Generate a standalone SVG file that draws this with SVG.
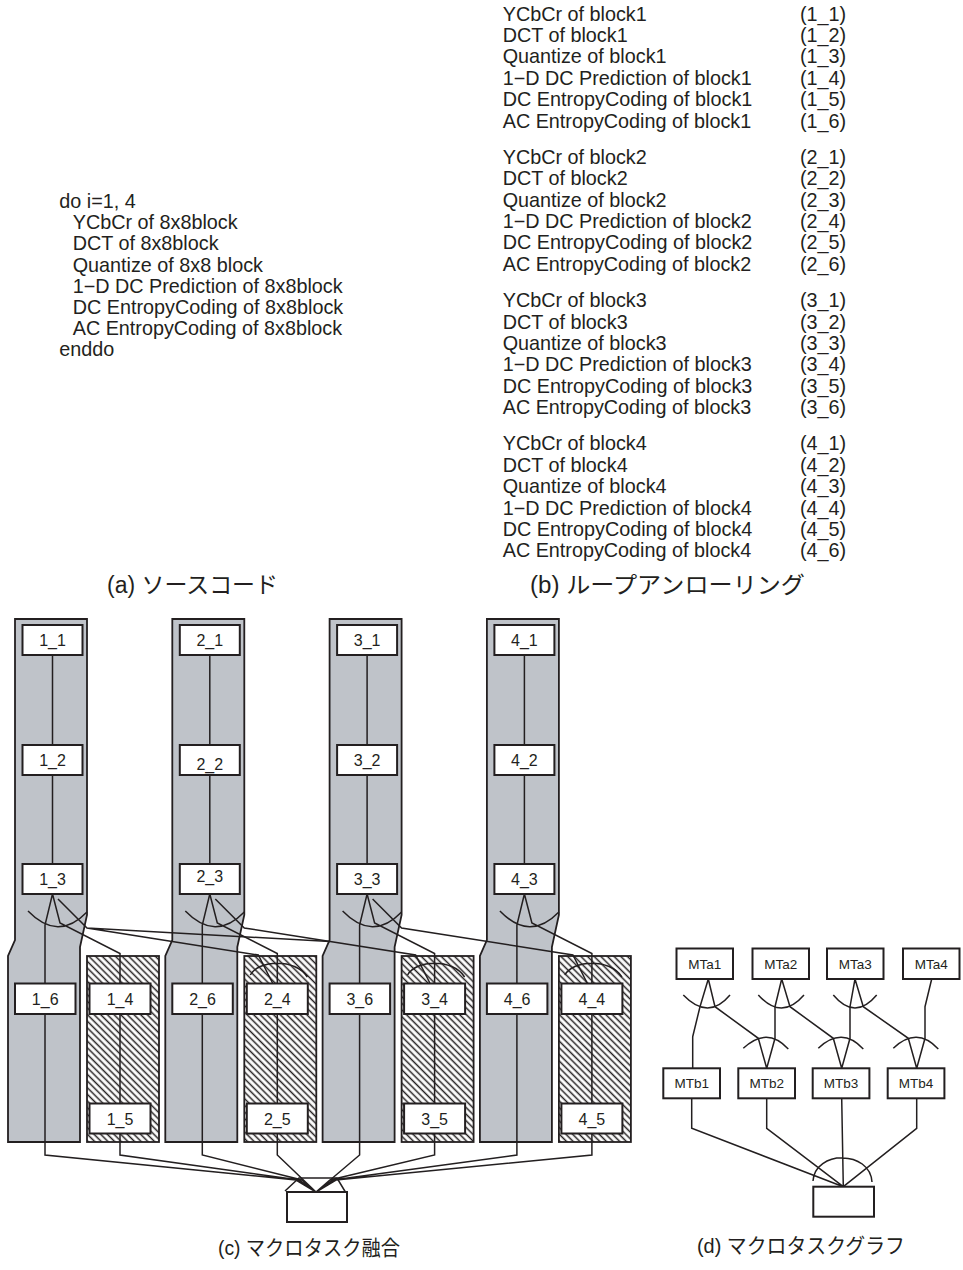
<svg xmlns="http://www.w3.org/2000/svg" width="963" height="1270" viewBox="0 0 963 1270">
<style>
.t{font-family:"Liberation Sans",Arial,sans-serif;fill:#231f20}
.big{font-size:19.8px}
.lbl{font-size:16px;text-anchor:middle}
.mt{font-size:13.5px;text-anchor:middle}
.cap{font-family:"Liberation Sans","Noto Sans CJK JP",sans-serif;fill:#231f20}
.box{fill:#fff;stroke:#231f20;stroke-width:2}
.col{fill:#bfc3c9;stroke:#231f20;stroke-width:1.8}
.hat{fill:url(#hatch);stroke:#231f20;stroke-width:1.8}
.ln{fill:none;stroke:#231f20;stroke-width:1.5}
</style>
<defs>
<pattern id="hatch" patternUnits="userSpaceOnUse" width="4.7" height="4.7" patternTransform="rotate(-45)">
<rect width="4.7" height="4.7" fill="#fff"/>
<line x1="2.35" y1="0" x2="2.35" y2="4.7" stroke="#231f20" stroke-width="1.5"/>
</pattern>
</defs>
<rect width="963" height="1270" fill="#fff"/>

<g id="source" class="t big">
<text x="59.3" y="208.3">do i=1, 4</text>
<text x="72.7" y="229.4">YCbCr of 8x8block</text>
<text x="72.7" y="250.4">DCT of 8x8block</text>
<text x="72.7" y="271.5">Quantize of 8x8 block</text>
<text x="72.7" y="292.5">1−D DC Prediction of 8x8block</text>
<text x="72.7" y="313.6">DC EntropyCoding of 8x8block</text>
<text x="72.7" y="334.6">AC EntropyCoding of 8x8block</text>
<text x="59.3" y="355.7">enddo</text>
</g>

<g id="unrolled" class="t big">
<text x="502.7" y="20.5">YCbCr of block1</text><text x="800" y="20.5">(1_1)</text>
<text x="502.7" y="41.9">DCT of block1</text><text x="800" y="41.9">(1_2)</text>
<text x="502.7" y="63.3">Quantize of block1</text><text x="800" y="63.3">(1_3)</text>
<text x="502.7" y="84.7">1−D DC Prediction of block1</text><text x="800" y="84.7">(1_4)</text>
<text x="502.7" y="106.1">DC EntropyCoding of block1</text><text x="800" y="106.1">(1_5)</text>
<text x="502.7" y="127.5">AC EntropyCoding of block1</text><text x="800" y="127.5">(1_6)</text>
<text x="502.7" y="163.8">YCbCr of block2</text><text x="800" y="163.8">(2_1)</text>
<text x="502.7" y="185.2">DCT of block2</text><text x="800" y="185.2">(2_2)</text>
<text x="502.7" y="206.6">Quantize of block2</text><text x="800" y="206.6">(2_3)</text>
<text x="502.7" y="228">1−D DC Prediction of block2</text><text x="800" y="228">(2_4)</text>
<text x="502.7" y="249.4">DC EntropyCoding of block2</text><text x="800" y="249.4">(2_5)</text>
<text x="502.7" y="270.8">AC EntropyCoding of block2</text><text x="800" y="270.8">(2_6)</text>
<text x="502.7" y="307.1">YCbCr of block3</text><text x="800" y="307.1">(3_1)</text>
<text x="502.7" y="328.5">DCT of block3</text><text x="800" y="328.5">(3_2)</text>
<text x="502.7" y="349.9">Quantize of block3</text><text x="800" y="349.9">(3_3)</text>
<text x="502.7" y="371.3">1−D DC Prediction of block3</text><text x="800" y="371.3">(3_4)</text>
<text x="502.7" y="392.7">DC EntropyCoding of block3</text><text x="800" y="392.7">(3_5)</text>
<text x="502.7" y="414.1">AC EntropyCoding of block3</text><text x="800" y="414.1">(3_6)</text>
<text x="502.7" y="450.4">YCbCr of block4</text><text x="800" y="450.4">(4_1)</text>
<text x="502.7" y="471.8">DCT of block4</text><text x="800" y="471.8">(4_2)</text>
<text x="502.7" y="493.2">Quantize of block4</text><text x="800" y="493.2">(4_3)</text>
<text x="502.7" y="514.6">1−D DC Prediction of block4</text><text x="800" y="514.6">(4_4)</text>
<text x="502.7" y="536">DC EntropyCoding of block4</text><text x="800" y="536">(4_5)</text>
<text x="502.7" y="557.4">AC EntropyCoding of block4</text><text x="800" y="557.4">(4_6)</text>
</g>

<g id="captions" class="cap">
<text x="107" y="593" font-size="23" textLength="171" lengthAdjust="spacingAndGlyphs">(a) ソースコード</text>
<text x="530" y="593" font-size="23" textLength="275" lengthAdjust="spacingAndGlyphs">(b) ループアンローリング</text>
<text x="218" y="1255" font-size="21" textLength="182" lengthAdjust="spacingAndGlyphs">(c) マクロタスク融合</text>
<text x="697" y="1253" font-size="21" textLength="208" lengthAdjust="spacingAndGlyphs">(d) マクロタスクグラフ</text>
</g>

<g id="mt1"><path class="col" d="M15,619 H87 V915 L80,947 V1142 H8 V956 L15,940 Z"/></g>
<g id="mt2"><path class="col" d="M172.3,619 H244.3 V915 L237.3,947 V1142 H165.3 V956 L172.3,940 Z"/></g>
<g id="mt3"><path class="col" d="M329.6,619 H401.6 V915 L394.6,947 V1142 H322.6 V956 L329.6,940 Z"/></g>
<g id="mt4"><path class="col" d="M486.9,619 H558.9 V915 L551.9,947 V1142 H479.9 V956 L486.9,940 Z"/></g>
<g id="mh1"><rect class="hat" x="87" y="956" width="72" height="186"/></g>
<g id="mh2"><rect class="hat" x="244.3" y="956" width="72" height="186"/></g>
<g id="mh3"><rect class="hat" x="401.6" y="956" width="72" height="186"/></g>
<g id="mh4"><rect class="hat" x="558.9" y="956" width="72" height="186"/></g>

<g id="edges-c" class="ln">
<path d="M52.5,655 V745 M52.5,775 V864 M52.5,894 L45,925 V983.5 M52.5,894 L60,923 L120,953.5 V983.5 M58,899 L87,928 L258.3,955 L272.8,983.5 M87,928 L330,941.5 M120,1014 V1103.5 M28,911 Q58,942 87,912"/>
<path d="M209.8,655 V745 M209.8,775 V864 M209.8,894 L202.3,925 V983.5 M209.8,894 L217.3,923 L277.3,953.5 V983.5 M215.3,899 L244.3,928 L415.6,955 L430.1,983.5 M277.3,1014 V1103.5 M185.3,911 Q215.3,942 244.3,912 M250.3,975 C258.3,960 295.3,958 307.3,977"/>
<path d="M367.1,655 V745 M367.1,775 V864 M367.1,894 L359.6,925 V983.5 M367.1,894 L374.6,923 L434.6,953.5 V983.5 M372.6,899 L401.6,928 L572.9,955 L587.4,983.5 M434.6,1014 V1103.5 M342.6,911 Q372.6,942 401.6,912 M407.6,975 C415.6,960 452.6,958 464.6,977"/>
<path d="M524.4,655 V745 M524.4,775 V864 M524.4,894 L516.9,925 V983.5 M524.4,894 L531.9,923 L591.9,953.5 V983.5 M591.9,1014 V1103.5 M499.9,911 Q529.9,942 558.9,912 M564.9,975 C572.9,960 609.9,958 621.9,977"/>
<path d="M45,1014 V1155 L296,1180 L316,1192 M120,1133.5 V1155 L299,1180 L316,1192 M202.3,1014 V1155 L302,1180 L316,1192 M277.3,1133.5 V1155 L316,1192 M359.6,1014 V1155 L316,1192 M434.6,1133.5 V1155 L330,1180 L316,1192 M516.9,1014 V1155 L333,1180 L316,1192 M591.9,1133.5 V1155 L336,1180 L316,1192"/>
<path d="M285,1191 L299,1178 L337,1178 L346,1193"/>
</g>

<g id="n1_1"><rect class="box" x="22.5" y="625" width="60" height="30"/><text class="t lbl" x="52.5" y="645.7">1_1</text></g>
<g id="n1_2"><rect class="box" x="22.5" y="745" width="60" height="30"/><text class="t lbl" x="52.5" y="765.7">1_2</text></g>
<g id="n1_3"><rect class="box" x="22.5" y="864" width="60" height="30"/><text class="t lbl" x="52.5" y="884.5">1_3</text></g>
<g id="n1_6"><rect class="box" x="15" y="983.5" width="60.5" height="30.5"/><text class="t lbl" x="45.2" y="1004.5">1_6</text></g>
<g id="n1_4"><rect class="box" x="89.5" y="983.5" width="61" height="30.5"/><text class="t lbl" x="120" y="1004.5">1_4</text></g>
<g id="n1_5"><rect class="box" x="89.5" y="1103.5" width="61" height="30"/><text class="t lbl" x="120" y="1124.5">1_5</text></g>

<g id="n2_1"><rect class="box" x="179.8" y="625" width="60" height="30"/><text class="t lbl" x="209.8" y="645.7">2_1</text></g>
<g id="n2_2"><rect class="box" x="179.8" y="745" width="60" height="30"/><text class="t lbl" x="209.8" y="769.5">2_2</text></g>
<g id="n2_3"><rect class="box" x="179.8" y="864" width="60" height="30"/><text class="t lbl" x="209.8" y="882">2_3</text></g>
<g id="n2_6"><rect class="box" x="172.3" y="983.5" width="60.5" height="30.5"/><text class="t lbl" x="202.5" y="1004.5">2_6</text></g>
<g id="n2_4"><rect class="box" x="246.8" y="983.5" width="61" height="30.5"/><text class="t lbl" x="277.3" y="1004.5">2_4</text></g>
<g id="n2_5"><rect class="box" x="246.8" y="1103.5" width="61" height="30"/><text class="t lbl" x="277.3" y="1124.5">2_5</text></g>

<g id="n3_1"><rect class="box" x="337.1" y="625" width="60" height="30"/><text class="t lbl" x="367.1" y="645.7">3_1</text></g>
<g id="n3_2"><rect class="box" x="337.1" y="745" width="60" height="30"/><text class="t lbl" x="367.1" y="765.7">3_2</text></g>
<g id="n3_3"><rect class="box" x="337.1" y="864" width="60" height="30"/><text class="t lbl" x="367.1" y="884.5">3_3</text></g>
<g id="n3_6"><rect class="box" x="329.6" y="983.5" width="60.5" height="30.5"/><text class="t lbl" x="359.8" y="1004.5">3_6</text></g>
<g id="n3_4"><rect class="box" x="404.1" y="983.5" width="61" height="30.5"/><text class="t lbl" x="434.6" y="1004.5">3_4</text></g>
<g id="n3_5"><rect class="box" x="404.1" y="1103.5" width="61" height="30"/><text class="t lbl" x="434.6" y="1124.5">3_5</text></g>

<g id="n4_1"><rect class="box" x="494.4" y="625" width="60" height="30"/><text class="t lbl" x="524.4" y="645.7">4_1</text></g>
<g id="n4_2"><rect class="box" x="494.4" y="745" width="60" height="30"/><text class="t lbl" x="524.4" y="765.7">4_2</text></g>
<g id="n4_3"><rect class="box" x="494.4" y="864" width="60" height="30"/><text class="t lbl" x="524.4" y="884.5">4_3</text></g>
<g id="n4_6"><rect class="box" x="486.9" y="983.5" width="60.5" height="30.5"/><text class="t lbl" x="517.1" y="1004.5">4_6</text></g>
<g id="n4_4"><rect class="box" x="561.4" y="983.5" width="61" height="30.5"/><text class="t lbl" x="591.9" y="1004.5">4_4</text></g>
<g id="n4_5"><rect class="box" x="561.4" y="1103.5" width="61" height="30"/><text class="t lbl" x="591.9" y="1124.5">4_5</text></g>

<g id="c_end"><rect class="box" x="287" y="1192" width="60" height="30"/></g>

<g id="edges-d" class="ln">
<path d="M708.3,979 L700,1006.7 L692.7,1036.7 V1068.3 M708.3,979 L715,1006.7 L758.3,1038.3 L766.7,1068.3 M781.7,979 L775,1006.7 V1038.3 L766.7,1068.3 M781.7,979 L790,1006.7 L833.3,1038.3 L841.7,1068.3 M855,979 L850,1006.7 V1038.3 L841.7,1068.3 M855,979 L863.3,1006.7 L908.3,1038.3 L916.7,1068.3 M931.7,979 L925,1006.7 V1038.3 L916.7,1068.3"/>
<path d="M683.3,995 Q708.3,1021 730,995 M758.3,995 Q781.7,1021 804,995 M833.3,995 Q855,1021 876.7,995 M743.3,1048.3 Q766.7,1026 788.3,1049 M818.3,1048.3 Q841.7,1026 863.3,1049 M893.3,1048.3 Q916.7,1026 938.3,1049"/>
<path d="M691.7,1098.3 V1128.3 L843.3,1186.7 M766.7,1098.3 V1128.3 L843.3,1186.7 M841.7,1098.3 L843.3,1186.7 M916.7,1098.3 V1128.3 L843.3,1186.7 M813,1181 C815,1150 870,1150 872,1182"/>
</g>
<g id="MTa1"><rect class="box" x="676.5" y="948.5" width="56.5" height="30.5"/><text class="t mt" x="704.8" y="968.5">MTa1</text></g>
<g id="MTa2"><rect class="box" x="752.5" y="948.5" width="56.5" height="30.5"/><text class="t mt" x="780.8" y="968.5">MTa2</text></g>
<g id="MTa3"><rect class="box" x="827" y="948.5" width="56.5" height="30.5"/><text class="t mt" x="855.3" y="968.5">MTa3</text></g>
<g id="MTa4"><rect class="box" x="903" y="948.5" width="56.5" height="30.5"/><text class="t mt" x="931.3" y="968.5">MTa4</text></g>
<g id="MTb1"><rect class="box" x="663.3" y="1068.3" width="56.7" height="30"/><text class="t mt" x="691.7" y="1088">MTb1</text></g>
<g id="MTb2"><rect class="box" x="738.3" y="1068.3" width="56.7" height="30"/><text class="t mt" x="766.7" y="1088">MTb2</text></g>
<g id="MTb3"><rect class="box" x="812.7" y="1068.3" width="56.7" height="30"/><text class="t mt" x="841" y="1088">MTb3</text></g>
<g id="MTb4"><rect class="box" x="887.7" y="1068.3" width="56.7" height="30"/><text class="t mt" x="916" y="1088">MTb4</text></g>
<g id="d_end"><rect class="box" x="813.3" y="1186.7" width="60.7" height="30"/></g>
</svg>
